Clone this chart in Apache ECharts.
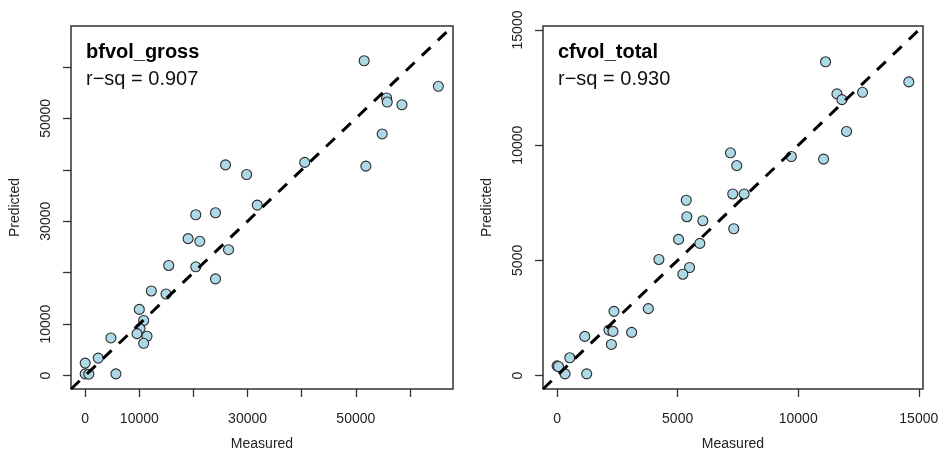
<!DOCTYPE html>
<html>
<head>
<meta charset="utf-8">
<script src="https://cdn.jsdelivr.net/npm/echarts@6/dist/echarts.min.js"></script>
<style>
  html, body { margin: 0; padding: 0; background: #fff; }
  #chartDom { width: 941px; height: 450px; }
</style>
</head>
<body>
<div id="chartDom"></div>
<script>
// bfvol_gross: measured vs predicted
const bfMeasured = [51537, 65241, 55685, 55800, 58519, 54870, 51852, 40556, 25926, 29815, 31790, 20432, 24074,
  19012, 21173, 26481, 15432, 20432, 24074, 12222, 14938, 10000, 10802, 10123, 9568, 11420, 10802, 4753, 2407, 0, 0, 679, 5679];
const bfPredicted = [61194, 56223, 53952, 53170, 52642, 46967, 40705, 41429, 40960, 39080, 33131, 31252, 31644,
  26614, 26093, 24462, 21396, 21135, 18787, 16438, 15851, 12851, 10698, 9126, 8151, 7632, 6262, 7306, 3392, 2414, 326, 261, 326];

// cfvol_total: measured vs predicted
const cfMeasured = [11134, 14586, 11606, 11813, 12666, 12003, 11051, 9714, 7190, 7450, 7285, 7757, 5356, 5381, 6043,
  7326, 5037, 5919, 4222, 5493, 5215, 3783, 2359, 2152, 2318, 3092, 2252, 1147, 526, 0, 58, 331, 1229];
const cfPredicted = [13620, 12748, 12226, 11977, 12295, 10597, 9394, 9508, 9669, 9116, 7883, 7883, 7609, 6895, 6721,
  6373, 5910, 5736, 5039, 4691, 4399, 2905, 2787, 1973, 1916, 1873, 1350, 1699, 771, 422, 392, 74, 74];

const bfLimits = [-2620, 67950];
const cfLimits = [-584, 15174];
const bfTicks = [0, 10000, 20000, 30000, 40000, 50000, 60000];
const bfLabels = [0, 10000, 30000, 50000];
const cfTicks = [0, 5000, 10000, 15000];
const cfLabels = [0, 5000, 10000, 15000];

const panels = [
  { title: 'bfvol_gross', rsq: 'r\u2212sq = 0.907', x: bfMeasured, y: bfPredicted, lim: bfLimits, ticks: bfTicks, labels: bfLabels },
  { title: 'cfvol_total', rsq: 'r\u2212sq = 0.930', x: cfMeasured, y: cfPredicted, lim: cfLimits, ticks: cfTicks, labels: cfLabels }
];

const font = 'Liberation Sans, Arial, sans-serif';
const grids = [
  { left: 71, top: 26, width: 382, height: 363 },
  { left: 543, top: 26, width: 380, height: 363 }
];

function axis(p, i, isX) {
  return {
    type: 'value',
    gridIndex: i,
    min: p.lim[0],
    max: p.lim[1],
    name: isX ? 'Measured' : 'Predicted',
    nameLocation: 'middle',
    nameGap: isX ? 48 : 49,
    nameTextStyle: { fontFamily: font, fontSize: 14, color: '#222' },
    axisLine: { show: false, onZero: false },
    axisTick: { show: true, inside: false, length: 8, customValues: p.ticks, lineStyle: { color: '#333', width: 1.3 } },
    axisLabel: {
      customValues: p.labels,
      formatter: v => String(v),
      rotate: isX ? 0 : 90,
      margin: isX ? 23 : 18,
      fontFamily: font,
      fontSize: 14,
      color: '#222'
    },
    splitLine: { show: false }
  };
}

const option = {
  animation: false,
  backgroundColor: '#fff',
  grid: grids.map(g => Object.assign({
    show: true, borderColor: '#333', borderWidth: 1.5, backgroundColor: 'transparent',
    containLabel: false, outerBoundsMode: 'none'
  }, g)),
  xAxis: panels.map((p, i) => axis(p, i, true)),
  yAxis: panels.map((p, i) => axis(p, i, false)),
  series: [],
  graphic: []
};

panels.forEach((p, i) => {
  option.series.push({
    type: 'scatter',
    xAxisIndex: i,
    yAxisIndex: i,
    symbolSize: 10,
    itemStyle: { color: '#add8e6', borderColor: '#2b2b2b', borderWidth: 1.1, opacity: 1 },
    data: p.x.map((v, k) => [v, p.y[k]]),
    z: 2
  });
  option.series.push({
    type: 'line',
    xAxisIndex: i,
    yAxisIndex: i,
    symbol: 'none',
    clip: true,
    lineStyle: { color: '#000', width: 3, type: [12, 10] },
    data: [[p.lim[0], p.lim[0]], [p.lim[1], p.lim[1]]],
    z: 3
  });
  const left = grids[i].left + 15;
  option.graphic.push({
    type: 'text', left: left, top: 42,
    style: { text: p.title, font: 'bold 20px ' + font, fill: '#000' }
  });
  option.graphic.push({
    type: 'text', left: left, top: 69,
    style: { text: p.rsq, font: '20px ' + font, fill: '#111' }
  });
});

const chart = echarts.init(document.getElementById('chartDom'));
chart.setOption(option);
</script>
</body>
</html>
